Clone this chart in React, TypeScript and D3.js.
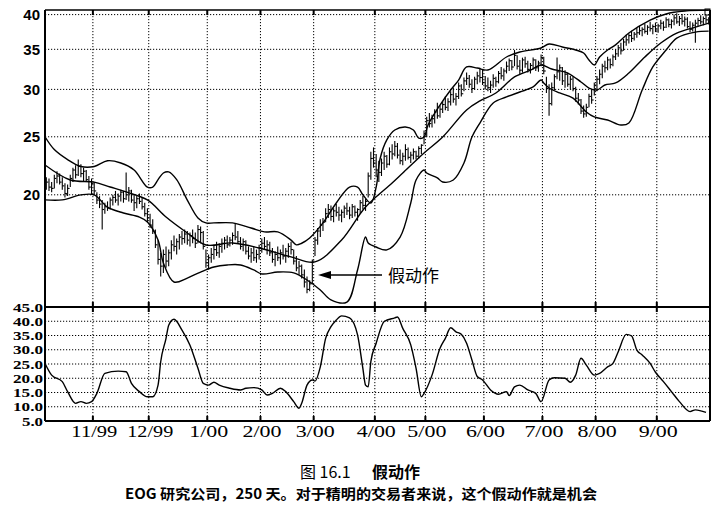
import React from "react";
import * as d3 from "d3";

// ---------- data ----------
const monthLabels = ["11/99", "12/99", "1/00", "2/00", "3/00", "4/00", "5/00", "6/00", "7/00", "8/00", "9/00"];
const monthStartDays = [18, 39, 61, 81, 101, 124, 143, 165, 187, 207, 230];
const priceTicks = [40, 35, 30, 25, 20];
const indTicks = [45, 40, 35, 30, 25, 20, 15, 10, 5];

const highs = [
  21.4, 21.3, 21.0, 21.6, 21.9, 21.7, 21.4, 20.9, 20.8,
  21.6, 22.2, 22.4, 22.9, 22.5, 22.2,
  22.0, 21.5, 21.3, 21.0,
  20.2, 19.9, 19.6, 19.4, 19.5, 19.8,
  20.0, 20.3, 20.1, 20.4, 20.3, 21.8, 20.6, 20.4, 20.0, 19.9, 20.1, 19.8,
  19.4, 19.0, 18.6, 18.2, 17.5, 16.8, 16.0, 16.2,
  16.4, 16.2, 16.8,
  17.1, 16.9, 17.2, 17.4,
  17.5, 17.4, 17.3, 17.5, 17.3, 17.8, 17.7, 17.4,
  16.2, 15.9, 16.3,
  16.5, 16.7, 16.6, 16.9, 17.0, 17.1,
  17.0, 17.3, 17.9, 17.4,
  17.0, 16.9, 16.8,
  16.4, 16.3, 16.4, 16.2, 16.5,
  16.9, 17.0, 16.8, 16.7,
  16.3, 16.1, 16.4, 16.2, 16.5, 16.3, 16.6, 16.7,
  16.2, 15.8, 15.5, 15.3,
  15.0, 14.6, 14.4,
  15.6,
  17.0, 17.6, 18.2, 18.3,
  19.0, 19.3, 19.2, 19.0, 19.3, 19.1, 18.9, 19.2, 19.4, 19.1, 19.3, 19.2, 19.0,
  19.6, 19.9, 19.7,
  21.8, 23.6, 24.0, 23.4, 22.8,
  23.0, 23.6, 23.3, 24.0,
  24.3, 24.6, 24.4, 23.8,
  23.5, 24.3, 24.0, 23.6,
  23.9, 23.7, 24.1, 24.3,
  25.6, 27.0, 27.4,
  27.2, 27.8, 28.5, 28.2,
  28.7, 29.2, 29.0, 29.8,
  30.2, 29.6, 30.8, 30.6,
  31.4, 32.0, 31.7,
  31.2, 31.5, 32.1, 32.6, 32.4, 31.6,
  31.4, 31.0, 31.8, 31.5,
  32.2, 32.7, 32.5,
  33.4, 33.8, 33.6, 34.9,
  34.2, 33.6, 33.9, 34.0,
  33.5, 33.2, 33.9, 33.7, 33.5, 34.3, 34.0,
  31.5, 30.6, 30.8,
  31.8, 33.9, 33.0, 32.7,
  32.3, 32.0, 31.6, 31.5,
  30.3, 29.6,
  28.9, 28.2, 28.4,
  29.5, 30.0,
  30.8, 31.6, 32.4, 33.1,
  33.5, 34.0, 33.8, 34.3,
  35.0, 35.6, 35.9, 36.4,
  37.0, 37.2, 37.6, 37.4, 38.0,
  38.3, 38.1, 38.6, 38.4, 38.9, 38.5, 38.8, 38.6,
  39.2, 39.0, 39.6, 39.4, 39.3,
  40.0, 40.2, 39.8, 40.1, 39.7, 39.6,
  39.0, 38.8, 39.2,
  39.5, 39.9, 39.7, 39.9, 39.6,
];

const lows = [
  20.4, 20.3, 20.2, 20.5, 20.9, 20.8, 20.4, 19.8, 19.9,
  20.6, 21.0, 21.3, 21.5, 21.4, 21.1,
  21.0, 20.4, 20.0, 20.0,
  19.3, 19.0, 17.5, 18.6, 18.8, 18.9,
  19.2, 19.4, 19.2, 19.5, 19.4, 19.6, 19.5, 19.4, 18.8, 19.0, 19.3, 18.9,
  18.4, 18.0, 17.6, 17.2, 16.3, 15.3, 14.6, 14.8,
  15.1, 15.2, 15.6,
  16.1, 15.9, 16.2, 16.5,
  16.6, 16.5, 16.4, 16.6, 16.3, 16.6, 16.6, 16.2,
  15.1, 15.0, 15.4,
  15.6, 15.8, 15.7, 16.0, 16.2, 16.3,
  16.4, 16.5, 16.8, 16.6,
  16.2, 16.1, 15.9,
  15.6, 15.4, 15.5, 15.4, 15.6,
  16.0, 16.2, 15.9, 15.8,
  15.4, 15.2, 15.5, 15.3, 15.6, 15.4, 15.7, 15.9,
  15.3, 14.9, 14.7, 14.5,
  14.0, 13.7, 13.8,
  14.2,
  15.8, 16.5, 17.0, 17.4,
  18.0, 18.3, 18.1, 18.0, 18.4, 18.1, 18.0, 18.3, 18.5, 18.2, 18.3, 18.4, 18.1,
  18.6, 18.9, 18.8,
  19.8, 21.2, 22.2, 21.4, 21.0,
  21.5, 22.0, 22.2, 22.4,
  22.9, 23.2, 23.0, 22.5,
  22.4, 22.8, 22.9, 22.6,
  22.9, 22.9, 23.0, 23.4,
  24.3, 25.0, 25.9,
  25.9, 26.3, 26.8, 26.9,
  27.4, 27.7, 27.6, 28.2,
  28.5, 28.2, 28.9, 29.2,
  29.8, 30.5, 30.2,
  29.6, 30.0, 30.6, 30.8, 30.5, 30.0,
  29.8, 29.6, 30.2, 30.3,
  30.7, 31.2, 31.0,
  31.9, 32.2, 32.3, 32.8,
  32.4, 31.8, 32.0, 32.6,
  32.0, 31.9, 32.4, 32.2, 32.1, 32.8, 31.8,
  29.6, 27.1, 28.2,
  29.9, 31.2, 31.0, 30.5,
  30.2, 30.3, 30.0, 29.8,
  28.6, 28.3,
  27.3, 26.9, 27.0,
  28.0, 28.4,
  29.3, 29.8, 30.6, 31.3,
  32.0, 32.3, 32.5, 32.8,
  33.6, 34.0, 34.3, 34.8,
  35.5, 35.8, 36.0, 36.2, 36.6,
  37.0, 36.8, 37.2, 37.0, 37.5, 37.1, 37.4, 37.3,
  37.8, 37.6, 38.0, 38.1, 37.9,
  38.4, 38.6, 38.3, 38.5, 38.2, 37.9,
  37.4, 37.5, 35.9,
  38.3, 38.5, 38.4, 38.7, 38.5,
];

const closes = [
  21.0, 20.6, 20.5, 21.3, 21.5, 21.0, 20.7, 20.1, 20.5,
  21.3, 22.0, 21.6, 22.3, 21.7, 21.9,
  21.2, 20.6, 20.9, 20.3,
  19.6, 19.3, 18.9, 19.1, 19.0, 19.6,
  19.8, 19.6, 19.9, 20.2, 19.7, 20.0, 20.3, 19.6, 19.4, 19.7, 19.5, 19.1,
  18.6, 18.3, 17.8, 17.4, 16.5, 15.6, 15.2, 15.9,
  15.5, 16.0, 16.5,
  16.4, 16.7, 17.0, 16.9,
  17.2, 16.8, 17.1, 16.9, 16.6, 17.5, 17.3, 16.4,
  15.4, 15.7, 15.9,
  16.2, 16.0, 16.4, 16.6, 16.8, 16.5,
  16.8, 17.1, 17.0, 16.7,
  16.4, 16.7, 16.1,
  15.8, 16.0, 15.7, 15.9, 16.3,
  16.6, 16.4, 16.5, 16.0,
  15.6, 15.9, 15.7, 16.0, 15.8, 16.1, 16.4, 16.2,
  15.5, 15.1, 15.2, 14.7,
  14.3, 13.9, 14.2,
  15.5,
  16.8, 17.4, 17.8, 18.0,
  18.6, 18.9, 18.4, 18.8, 18.7, 18.5, 18.7, 19.0, 18.8, 18.5, 19.1, 18.7, 18.9,
  19.4, 19.2, 19.5,
  21.5, 23.0, 22.6, 22.0, 21.8,
  22.6, 23.2, 22.5, 23.6,
  23.4, 24.1, 23.3, 22.8,
  23.2, 23.8, 23.1, 23.3,
  23.6, 23.2, 23.9, 24.2,
  25.3, 26.6, 26.3,
  26.8, 27.5, 27.1, 27.8,
  28.3, 28.0, 28.6, 29.4,
  28.9, 29.2, 30.4, 29.5,
  31.0, 31.3, 30.6,
  30.1, 31.2, 31.6, 31.4, 30.8, 30.4,
  30.2, 30.5, 31.3, 30.9,
  31.9, 31.6, 32.2,
  32.8, 33.5, 32.7, 34.2,
  32.8, 32.3, 33.6, 33.1,
  32.4, 32.9, 33.6, 32.6, 33.2, 33.9, 32.2,
  30.1, 28.4, 30.2,
  31.5, 32.1, 32.6, 31.0,
  31.8, 30.6, 31.2, 30.1,
  29.0, 28.8,
  27.6, 27.3, 28.0,
  29.2, 28.8,
  30.5, 31.2, 31.8, 32.8,
  32.6, 33.6, 33.0, 34.0,
  34.4, 35.2, 34.8, 36.0,
  36.3, 36.9, 36.5, 37.1, 37.3,
  37.6, 37.8, 37.5, 38.1, 37.9, 38.2, 37.7, 38.3,
  38.7, 38.1, 39.2, 38.5, 39.0,
  39.5, 38.9, 39.4, 39.0, 39.3, 38.2,
  37.8, 38.4, 38.7,
  39.1, 38.9, 39.4, 39.2, 39.0,
];

const upperDays = [-0.5, 3, 8, 13, 18, 23, 28, 33, 38, 40, 42, 44, 46, 49, 53, 57, 60, 63, 70, 77, 82, 87, 92, 94, 96, 99, 104, 109, 114, 117, 119, 122, 124, 125.5, 128, 131, 135, 138, 140, 142, 143.5, 148, 152, 155, 158, 162, 166, 173, 178, 186, 189, 194, 199, 202, 204, 206, 208, 211, 214, 219, 227, 233, 240, 249];
const upperVals = [25.0, 23.8, 22.9, 22.3, 22.3, 22.8, 22.6, 22.0, 20.6, 20.6, 21.2, 21.75, 21.84, 21.2, 19.6, 18.3, 17.95, 17.95, 17.95, 17.6, 17.34, 17.34, 16.8, 16.5, 16.6, 16.94, 17.95, 19.38, 20.6, 20.6, 20.0, 19.38, 20.6, 23.0, 24.7, 25.66, 25.96, 25.66, 24.88, 24.98, 26.16, 28.25, 29.93, 31.1, 32.7, 32.57, 32.32, 33.98, 34.64, 35.18, 35.72, 35.31, 34.91, 34.5, 33.59, 32.95, 33.98, 34.91, 35.6, 37.26, 39.17, 40.1, 40.55, 40.7];

const middleDays = [-0.5, 9, 18, 24, 30, 38, 45, 53, 60, 70, 80, 92, 101, 111, 120, 130, 134, 142, 149, 158, 163, 169, 176, 182, 186, 190, 196, 201, 204, 207, 210, 214, 219, 225, 231, 237, 244, 249];
const middleVals = [22.43, 21.17, 21.0, 20.61, 20.22, 19.61, 18.36, 17.27, 16.49, 16.62, 16.3, 15.75, 15.45, 16.81, 19.08, 20.93, 21.75, 23.49, 24.98, 27.72, 28.7, 29.59, 31.47, 32.3, 32.95, 32.45, 31.95, 30.87, 30.16, 29.93, 30.51, 30.75, 31.95, 33.98, 35.86, 37.26, 38.13, 38.72];

const lowerDays = [-0.5, 6, 13, 18, 23, 29, 35, 38, 42, 44, 48, 53, 58, 63, 68, 73, 78, 81, 87, 93, 98, 103, 107, 113, 117, 120, 121, 124, 128, 133, 137, 139, 142, 143, 147, 149, 153, 157, 160, 163, 168, 173, 178, 183, 186, 187, 189, 193, 198, 203, 206, 211, 216, 219, 224, 228, 233, 237, 244, 249];
const lowerVals = [19.61, 19.61, 19.99, 19.99, 19.08, 18.65, 18.36, 18.02, 16.81, 15.39, 14.3, 14.52, 14.86, 15.15, 15.27, 15.27, 14.98, 14.75, 14.86, 14.81, 14.41, 13.87, 13.35, 13.24, 14.98, 17.0, 16.62, 16.36, 16.18, 17.0, 19.38, 21.17, 22.0, 21.75, 21.34, 21.01, 21.17, 22.6, 24.98, 26.36, 28.47, 29.14, 29.7, 30.28, 31.1, 30.75, 30.16, 29.59, 29.0, 27.5, 26.98, 26.67, 26.16, 26.36, 29.93, 32.7, 34.91, 36.55, 37.4, 37.54];

const indDays = [-0.5, 2, 6, 8, 11, 13, 15, 17, 19, 22, 27, 30, 32, 35, 38, 40, 42, 43, 45, 46, 48, 51, 54, 57, 59, 61, 63, 65, 69, 73, 75, 78, 81, 83, 85, 88, 90, 93, 95, 96, 98, 100, 101, 103, 105, 107, 109, 111, 114, 117, 119, 120, 121, 122, 124, 127, 131, 132, 134, 137, 139, 141, 142, 145, 148, 150, 152, 154, 156, 158, 160, 162, 164, 167, 170, 173, 174, 176, 178, 181, 184, 186, 189, 191, 195, 197, 199, 201, 203, 206, 208, 211, 213, 215, 218, 220, 222, 224, 227, 229, 232, 235, 238, 242, 244, 248];
const indVals = [25.2, 21.1, 18.8, 15.3, 11.2, 11.8, 11.2, 11.8, 14.7, 21.7, 22.5, 22.3, 18.2, 15.3, 13.5, 13.5, 17.6, 25.8, 34.0, 38.6, 40.7, 36.9, 31.6, 23.5, 18.2, 17.6, 18.6, 17.6, 16.5, 15.9, 16.5, 16.7, 15.9, 14.1, 14.7, 16.5, 15.3, 11.8, 9.5, 11.2, 17.6, 19.4, 19.0, 24.0, 34.0, 38.1, 40.4, 41.9, 41.2, 35.2, 23.5, 17.6, 17.0, 25.8, 32.3, 39.9, 41.2, 41.5, 37.5, 31.7, 23.5, 13.5, 14.7, 21.1, 30.5, 34.0, 37.7, 36.3, 35.4, 32.3, 26.4, 20.6, 19.4, 15.9, 14.4, 15.3, 13.9, 17.0, 17.6, 15.9, 14.7, 11.8, 19.4, 20.2, 20.0, 18.6, 21.1, 27.0, 24.6, 21.1, 21.7, 24.0, 25.2, 29.3, 35.4, 34.9, 29.9, 28.2, 25.2, 22.1, 18.8, 15.3, 11.8, 8.3, 8.9, 8.0];

// ---------- chart ----------
export default function App() {
  const W = 724, H = 508;
  const L = 45, R = 710, T = 10, SEP = 307, B = 421;
  const N = closes.length;

  const x = d3.scaleLinear().domain([0, N]).range([L, R]);
  const yP = d3.scaleLog().domain([20, 40]).range([194.8, 14.6]);
  const yI = d3.scaleLinear().domain([5, 45]).range([B, SEP]);

  const bandPath = (days: number[], vals: number[]) =>
    d3.line<number>()
      .x((_, i) => x(days[i] + 0.5))
      .y((d) => yP(d))
      .curve(d3.curveCatmullRom.alpha(0.5))(vals) || "";

  const indPath = d3.line<number>()
    .x((_, i) => x(indDays[i] + 0.5))
    .y((d) => yI(d))
    .curve(d3.curveMonotoneX)(indVals) || "";

  const gridDash = "1.2,1.8";
  const cjk = '"Noto Sans CJK SC", "Noto Sans", sans-serif';

  return (
    <div style={{ position: "absolute", left: 0, top: 0, width: W, height: H, background: "#fff" }}>
      <svg width={W} height={H} viewBox={`0 0 ${W} ${H}`} style={{ display: "block" }}>
        <rect x={0} y={0} width={W} height={H} fill="#fff" />
        <defs>
          <clipPath id="pclip">
            <rect x={L} y={T} width={R - L} height={SEP - T} />
          </clipPath>
          <clipPath id="iclip">
            <rect x={L} y={SEP} width={R - L} height={B - SEP} />
          </clipPath>
        </defs>

        {/* vertical grid */}
        {monthStartDays.map((d) => (
          <line key={"vg" + d} x1={x(d)} x2={x(d)} y1={T} y2={B} stroke="#000" strokeWidth={1} strokeDasharray={gridDash} />
        ))}
        {/* horizontal grid price */}
        {priceTicks.map((v) => (
          <line key={"hp" + v} x1={L} x2={R} y1={yP(v)} y2={yP(v)} stroke="#000" strokeWidth={1} strokeDasharray={gridDash} />
        ))}
        {/* horizontal grid indicator */}
        {indTicks.filter((v) => v !== 45 && v !== 5).map((v) => (
          <line key={"hi" + v} x1={L} x2={R} y1={yI(v)} y2={yI(v)} stroke="#000" strokeWidth={1} strokeDasharray={gridDash} />
        ))}

        {/* price bars */}
        <g clipPath="url(#pclip)" stroke="#000" strokeWidth={1.1}>
          {closes.map((c, i) => {
            const cx = x(i + 0.5);
            return (
              <g key={"b" + i}>
                <line x1={cx} x2={cx} y1={yP(highs[i])} y2={yP(lows[i])} />
                <line x1={cx} x2={cx + 2} y1={yP(c)} y2={yP(c)} />
              </g>
            );
          })}
        </g>

        {/* bands */}
        <g clipPath="url(#pclip)" fill="none" stroke="#000" strokeWidth={1.4}>
          <path d={bandPath(upperDays, upperVals)} />
          <path d={bandPath(middleDays, middleVals)} />
          <path d={bandPath(lowerDays, lowerVals)} />
        </g>

        {/* indicator */}
        <g clipPath="url(#iclip)">
          <path d={indPath} fill="none" stroke="#000" strokeWidth={1.4} />
        </g>

        {/* frame */}
        <line x1={L} x2={R} y1={T} y2={T} stroke="#000" strokeWidth={1.6} />
        <line x1={L} x2={R} y1={SEP} y2={SEP} stroke="#000" strokeWidth={2} />
        <line x1={L} x2={R} y1={B} y2={B} stroke="#000" strokeWidth={2} />
        <line x1={L} x2={L} y1={T} y2={B} stroke="#000" strokeWidth={2} />
        <line x1={R} x2={R} y1={T} y2={B} stroke="#000" strokeWidth={2} />
        <rect x={R - 5} y={T - 1} width={5} height={6} fill="none" stroke="#000" strokeWidth={1} />

        {/* month tick marks */}
        {monthStartDays.map((d) => (
          <g key={"mt" + d} stroke="#000" strokeWidth={2}>
            <line x1={x(d)} x2={x(d)} y1={T} y2={T + 5} />
            <line x1={x(d)} x2={x(d)} y1={SEP - 5} y2={SEP + 5} />
            <line x1={x(d)} x2={x(d)} y1={B - 5} y2={B} />
          </g>
        ))}

        {/* price axis labels */}
        {priceTicks.map((v) => (
          <text key={"pl" + v} x={40} y={yP(v) + 5.5} textAnchor="end"
            fontFamily='"Liberation Sans", Arial, sans-serif' fontWeight="bold" fontSize={15}>
            {String(v)}
          </text>
        ))}

        {/* indicator axis labels */}
        {indTicks.map((v) => (
          <text key={"il" + v} x={43} y={yI(v) + 4.5} textAnchor="end"
            fontFamily='"Liberation Serif", "Times New Roman", serif' fontWeight="bold" fontSize={12.8}
            textLength={v >= 10 ? 30 : 21} lengthAdjust="spacingAndGlyphs">
            {v.toFixed(1)}
          </text>
        ))}

        {/* month labels */}
        {monthStartDays.map((d, i) => (
          <text key={"ml" + d} x={x(d) + 1.5} y={437} textAnchor="middle"
            fontFamily='"Liberation Serif", "Times New Roman", serif' fontSize={17}
            textLength={monthLabels[i].length === 5 ? 46 : 39} lengthAdjust="spacingAndGlyphs">
            {monthLabels[i]}
          </text>
        ))}

        {/* annotation */}
        <line x1={327} x2={382} y1={275} y2={275} stroke="#000" strokeWidth={1.3} />
        <path d="M318,275 L331,271 L331,279 Z" fill="#000" />
        <text x={388} y={282} fontFamily={cjk} fontSize={17}>假动作</text>

        {/* captions */}
        <text x={300} y={478} fontFamily={cjk} fontSize={16}>图 16.1</text>
        <text x={372} y={478} fontFamily={cjk} fontSize={16} fontWeight="bold">假动作</text>
        <text x={125} y={499} fontFamily={cjk} fontSize={14} fontWeight="bold"
          textLength={472} lengthAdjust="spacingAndGlyphs">
          EOG 研究公司，250 天。对于精明的交易者来说，这个假动作就是机会
        </text>
      </svg>
    </div>
  );
}
